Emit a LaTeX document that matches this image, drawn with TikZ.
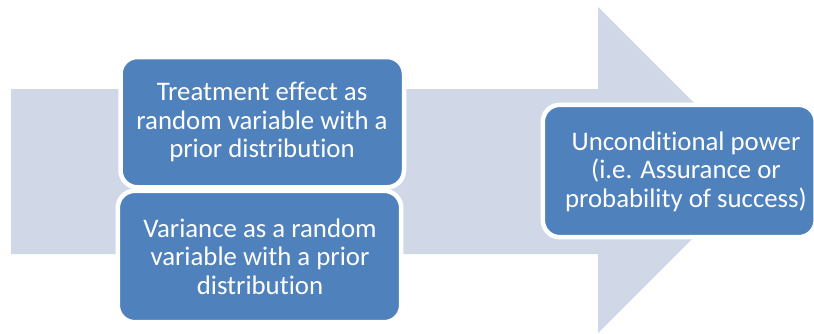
\documentclass[tikz,border=0pt]{standalone}
\usepackage{fontspec}
\setmainfont{Carlito}[Ligatures=NoCommon]
\definecolor{arrowfill}{RGB}{208,216,232}
\definecolor{boxfill}{RGB}{79,129,189}
\tikzset{
  bigarrow/.style={fill=arrowfill, draw=none},
  boxshape/.style={fill=boxfill, draw=white, line width=4.5pt, rounded corners=17pt},
  boxtext/.style={text=white, align=center, inner sep=0pt, font=\fontsize{26.8}{28.4}\selectfont}
}
\begin{document}
\begin{tikzpicture}[x=1pt,y=-1pt]
\clip (0,0) rectangle (814,333);
\fill[white] (0,0) rectangle (814,333);
% background arrow
\path[bigarrow] (11,89) -- (598,89) -- (598,7) -- (761,170) -- (598,333) -- (598,254) -- (11,254) -- cycle;
% boxes
\draw[boxshape] (117.8,190.8) rectangle (401.2,322.2);
\draw[boxshape] (120.5,57) rectangle (404,187.3);
\draw[boxshape] (542.8,104.8) rectangle (815.7,237.2);
% texts
\node[boxtext] (t1) at (262,122) {Treatment effect as\\random variable with a\\prior distribution};
\node[boxtext] (t2) at (260,256.5) {Variance as a random\\variable with a prior\\distribution};
\node[boxtext] (t3) at (686,171.5) {Unconditional power\\(i.e. Assurance or\\probability of success)};
\end{tikzpicture}
\end{document}
